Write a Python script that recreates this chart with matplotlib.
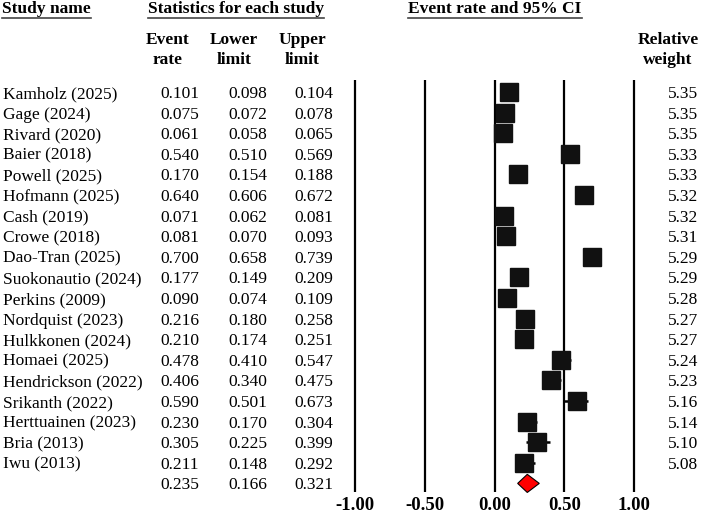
import matplotlib
matplotlib.use("Agg")
import matplotlib.pyplot as plt
from matplotlib.lines import Line2D
from matplotlib.transforms import IdentityTransform, blended_transform_factory
import numpy as np

plt.rcParams['font.family'] = ['Liberation Serif', 'DejaVu Serif']

studies = ["Kamholz (2025)", "Gage (2024)", "Rivard (2020)", "Baier (2018)",
           "Powell (2025)", "Hofmann (2025)", "Cash (2019)", "Crowe (2018)",
           "Dao-Tran (2025)", "Suokonautio (2024)", "Perkins (2009)",
           "Nordquist (2023)", "Hulkkonen (2024)", "Homaei (2025)",
           "Hendrickson (2022)", "Srikanth (2022)", "Herttuainen (2023)",
           "Bria (2013)", "Iwu (2013)"]
event_rate = [0.101, 0.075, 0.061, 0.540, 0.170, 0.640, 0.071, 0.081, 0.700,
              0.177, 0.090, 0.216, 0.210, 0.478, 0.406, 0.590, 0.230, 0.305, 0.211]
lower = [0.098, 0.072, 0.058, 0.510, 0.154, 0.606, 0.062, 0.070, 0.658,
         0.149, 0.074, 0.180, 0.174, 0.410, 0.340, 0.501, 0.170, 0.225, 0.148]
upper = [0.104, 0.078, 0.065, 0.569, 0.188, 0.672, 0.081, 0.093, 0.739,
         0.209, 0.109, 0.258, 0.251, 0.547, 0.475, 0.673, 0.304, 0.399, 0.292]
weights = [5.35, 5.35, 5.35, 5.33, 5.33, 5.32, 5.32, 5.31, 5.29, 5.29, 5.28,
           5.27, 5.27, 5.24, 5.23, 5.16, 5.14, 5.10, 5.08]
pooled = (0.235, 0.166, 0.321)
xticks = [-1.0, -0.5, 0.0, 0.5, 1.0]

W, H = 707, 513
fig = plt.figure(figsize=(W / 100, H / 100), dpi=100)
ax = fig.add_axes([0, 0, 1, 1])
ax.axis('off')

# map data to pixels: x=-1 at 355px, x=1 at 634px; row i at 92 + 20.6*i px
sc = (634 - 355) / 2
ax.set_xlim(-1 - 355 / sc, 1 + (W - 634) / sc)
row_h = 20.6
ax.set_ylim((H - 92) / row_h, -92 / row_h)

n = len(studies)
rows = np.arange(n)

# vertical reference lines
ax.vlines(xticks, -12 / row_h, (492 - 92) / row_h, color='black', lw=1.6)

# CIs and squares
ax.hlines(rows, lower, upper, color='black', lw=1.8)
for i in range(n):
    ms = 12.7 * np.sqrt(weights[i] / max(weights))
    ax.plot(event_rate[i], rows[i], marker='s', ms=ms, color='#111111', mec='#111111')

# summary diamond
est, lo, hi = pooled
dh = 0.44
ax.fill([lo, est, hi, est], [n, n - dh, n, n + dh], facecolor='#ff0000',
        edgecolor='black', lw=0.8, zorder=3)

fs = 12.5
bt = blended_transform_factory(ax.transAxes, ax.transData)
def fx(p):
    return p / W

all_names = studies + [""]
all_er = event_rate + [est]
all_lo = lower + [lo]
all_hi = upper + [hi]
for i in range(n + 1):
    ax.text(fx(3), i, all_names[i], transform=bt, fontsize=fs, va='center_baseline', ha='left')
    ax.text(fx(199), i, f"{all_er[i]:.3f}", transform=bt, fontsize=fs, va='center_baseline', ha='right')
    ax.text(fx(267), i, f"{all_lo[i]:.3f}", transform=bt, fontsize=fs, va='center_baseline', ha='right')
    ax.text(fx(333), i, f"{all_hi[i]:.3f}", transform=bt, fontsize=fs, va='center_baseline', ha='right')
for i in range(n):
    ax.text(fx(698), i, f"{weights[i]:.2f}", transform=bt, fontsize=fs, va='center_baseline', ha='right')

# tick labels
bx = blended_transform_factory(ax.transData, ax.transAxes)
for t in xticks:
    ax.text(t, 1 - 506 / H, f"{t:.2f}", transform=bx, fontsize=13.5,
            fontweight='bold', ha='center', va='center')

# headers
def hy(p):
    return 1 - p / H

titles = [("Study name", 2, 'left'), ("Statistics for each study", 236, 'center'),
          ("Event rate and 95% CI", 495, 'center')]
title_texts = []
for s, x, ha in titles:
    t = ax.text(fx(x), hy(9), s, transform=ax.transAxes, fontsize=fs,
                fontweight='bold', ha=ha, va='center')
    title_texts.append(t)

subheads = [("Event\nrate", 168), ("Lower\nlimit", 234), ("Upper\nlimit", 302),
            ("Relative\nweight", 668)]
for s, x in subheads:
    ax.text(fx(x), hy(50), s, transform=ax.transAxes, fontsize=fs,
            fontweight='bold', ha='center', va='center', linespacing=1.3)

# underline the top headers
fig.canvas.draw()
r = fig.canvas.get_renderer()
for t in title_texts:
    bb = t.get_window_extent(r)
    fig.add_artist(Line2D([bb.x0, bb.x1], [bb.y0 - 1, bb.y0 - 1], color='#444444',
                          lw=1.2, transform=IdentityTransform()))

fig.savefig("out.png", dpi=100)
